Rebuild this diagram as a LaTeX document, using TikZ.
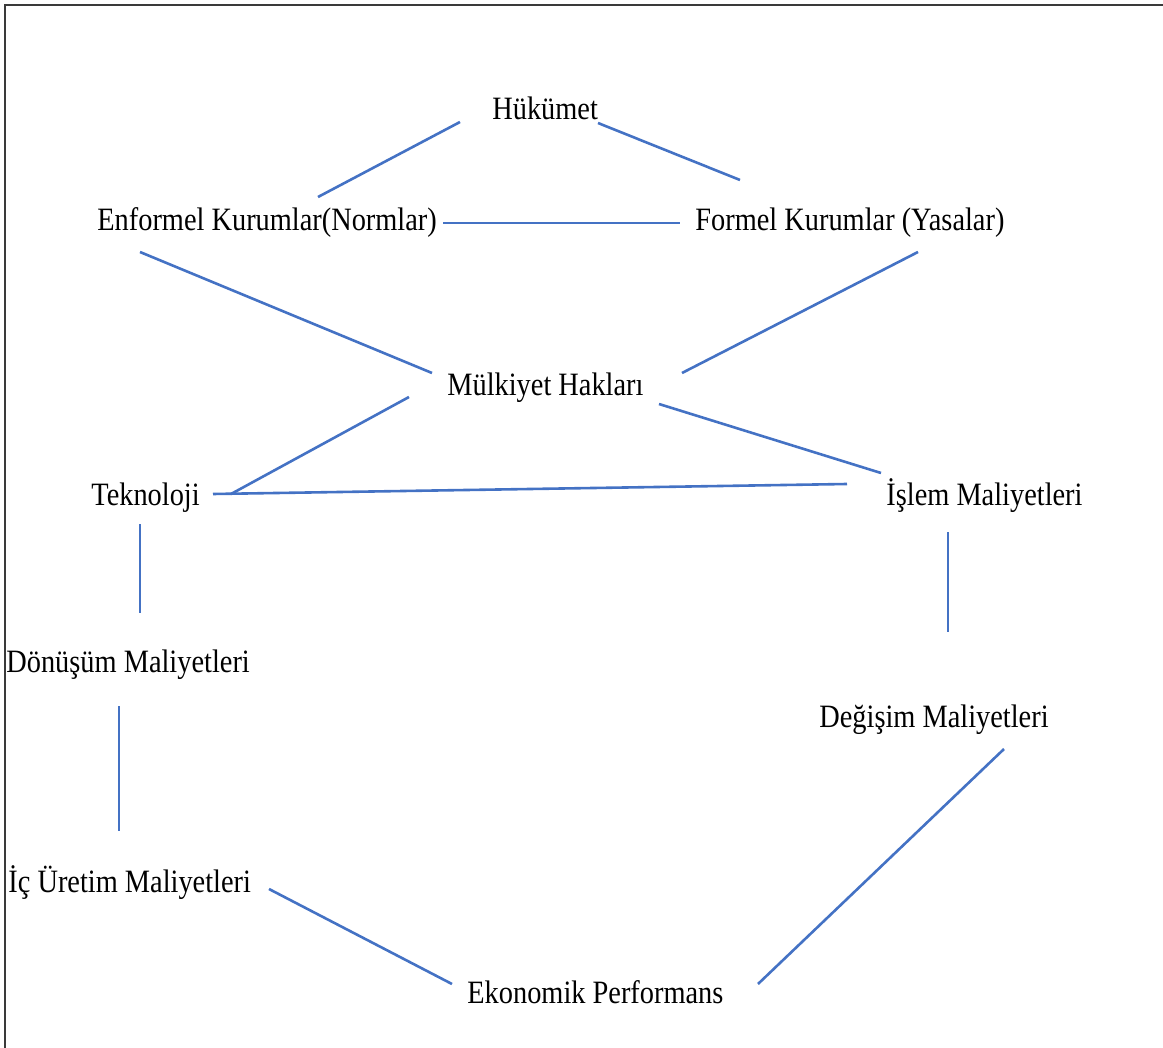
\documentclass[tikz,border=0pt]{standalone}
\usepackage{fontspec}
\setmainfont{Liberation Serif}[FakeStretch=0.87]
\definecolor{linkblue}{HTML}{4472C4}
\definecolor{framegray}{HTML}{3A3A3A}
\begin{document}
\begin{tikzpicture}[x=0.5pt,y=-0.5pt,
term/.style={
% plain text, placed by its baseline
inner sep=0pt,
anchor=base west,
font=\fontsize{16.3pt}{19pt}\selectfont
},
link/.style={
draw=linkblue,
line width=1.3pt
}
]
\useasboundingbox (0,0) rectangle (1163,1048);
\draw[framegray,line width=0.8pt] (1163,5) -- (5,5) -- (5,1048);
% Nodes, top to bottom:
\node (huk) [term] at (492,120) {Hükümet};
\node (enf) [term] at (97,231) {Enformel Kurumlar(Normlar)};
\node (frm) [term] at (695,231) {Formel Kurumlar (Yasalar)};
\node (mlk) [term] at (447,396) {Mülkiyet Hakları};
\node (tek) [term] at (91,505) {Teknoloji};
\node (isl) [term] at (886,505) {İşlem Maliyetleri};
\node (don) [term] at (6,672) {Dönüşüm Maliyetleri};
\node (deg) [term] at (819,727) {Değişim Maliyetleri};
\node (icu) [term] at (8,892) {İç Üretim Maliyetleri};
\node (eko) [term] at (467,1003) {Ekonomik Performans};
% Connectors:
\draw[link] ([shift={(-32,2)}]huk.base west) -- ([shift={(221,-34)}]enf.base west);
\draw[link] ([shift={(106,3)}]huk.base west) -- ([shift={(45,-51)}]frm.base west);
\draw[link] ([shift={(346,-8)}]enf.base west) -- ([shift={(-15,-8)}]frm.base west);
\draw[link] ([shift={(43,21)}]enf.base west) -- ([shift={(-15,-23)}]mlk.base west);
\draw[link] ([shift={(223,21)}]frm.base west) -- ([shift={(235,-23)}]mlk.base west);
\draw[link] ([shift={(-38,1)}]mlk.base west) -- ([shift={(140,-11)}]tek.base west);
\draw[link] ([shift={(212,8)}]mlk.base west) -- ([shift={(-5,-32)}]isl.base west);
\draw[link] ([shift={(122,-11)}]tek.base west) -- ([shift={(-39,-21)}]isl.base west);
\draw[link] ([shift={(49,19)}]tek.base west) -- ([shift={(134,-59)}]don.base west);
\draw[link] ([shift={(62,27)}]isl.base west) -- ([shift={(129,-95)}]deg.base west);
\draw[link] ([shift={(113,34)}]don.base west) -- ([shift={(111,-61)}]icu.base west);
\draw[link] ([shift={(261,-3)}]icu.base west) -- ([shift={(-15,-19)}]eko.base west);
\draw[link] ([shift={(185,22)}]deg.base west) -- ([shift={(291,-19)}]eko.base west);
\end{tikzpicture}
\end{document}
